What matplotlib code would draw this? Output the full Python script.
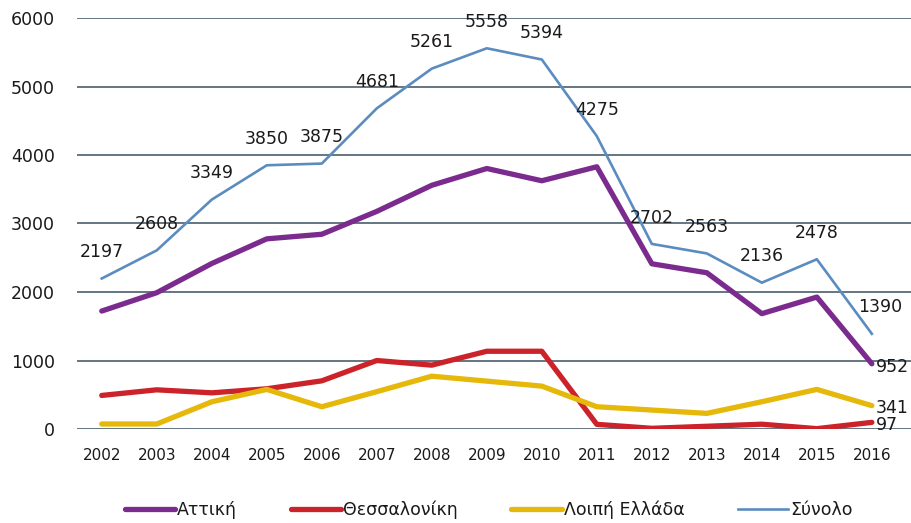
import matplotlib.pyplot as plt
import numpy as np

# Data
years = ['2002', '2003', '2004', '2005', '2006', '2007', '2008', '2009',
         '2010', '2011', '2012', '2013', '2014', '2015', '2016']
attiki = [1722, 1990, 2416, 2776, 2843, 3177, 3558, 3803, 3624, 3828, 2412, 2281, 1684, 1926, 952]
thessaloniki = [490, 572, 528, 587, 703, 1000, 932, 1135, 1135, 68, 10, 40, 70, 5, 97]
loipi = [73, 73, 397, 578, 325, 545, 771, 699, 626, 325, 277, 228, 398, 578, 341]
synolo = [2197, 2608, 3349, 3850, 3875, 4681, 5261, 5558, 5394, 4275, 2702, 2563, 2136, 2478, 1390]

x = np.arange(len(years))

fig = plt.figure(figsize=(9.12, 5.23), dpi=100)
ax = fig.add_axes([77 / 912, 94 / 523, 835 / 912, 411 / 523])

ax.plot(x, attiki, color='#7b2a8e', lw=3.8, label='Αττική', solid_capstyle='round')
ax.plot(x, thessaloniki, color='#cc2229', lw=3.8, label='Θεσσαλονίκη', solid_capstyle='round')
ax.plot(x, loipi, color='#e6b80a', lw=3.8, label='Λοιπή Ελλάδα', solid_capstyle='round')
ax.plot(x, synolo, color='#5b8cc0', lw=1.9, label='Σύνολο')

# value labels for the total line
for xi, v in zip(x, synolo):
    dx = 6 if xi == x[-1] else 0
    ax.annotate(str(v), (xi, v), xytext=(dx, 19), textcoords='offset points',
                ha='center', va='center', fontsize=12.5, color='#1a1a1a')

# end labels for the other series
for series in (attiki, loipi, thessaloniki):
    ax.annotate(str(series[-1]), (x[-1], series[-1]), xytext=(3, -2),
                textcoords='offset points', ha='left', va='center',
                fontsize=12.5, color='#1a1a1a')

ax.set_xlim(-0.45, 14.73)
ax.set_ylim(0, 6000)
ax.set_yticks(range(0, 6001, 1000))
ax.set_xticks(x, years)
ax.tick_params(axis='y', labelsize=12.5, colors='#1a1a1a', length=0, pad=16)
ax.tick_params(axis='x', labelsize=11, colors='#1a1a1a', length=0, pad=14)
ax.grid(axis='y', color='#3c5060', lw=1.1)
ax.set_axisbelow(True)
for s in ax.spines.values():
    s.set_visible(False)

fig.legend(loc='center', bbox_to_anchor=(0.536, 13 / 523), ncol=4, frameon=False,
           fontsize=12.5, handlelength=2.9, handletextpad=0.1, columnspacing=3.1,
           labelcolor='#1a1a1a')

fig.savefig('out.png', dpi=100)
